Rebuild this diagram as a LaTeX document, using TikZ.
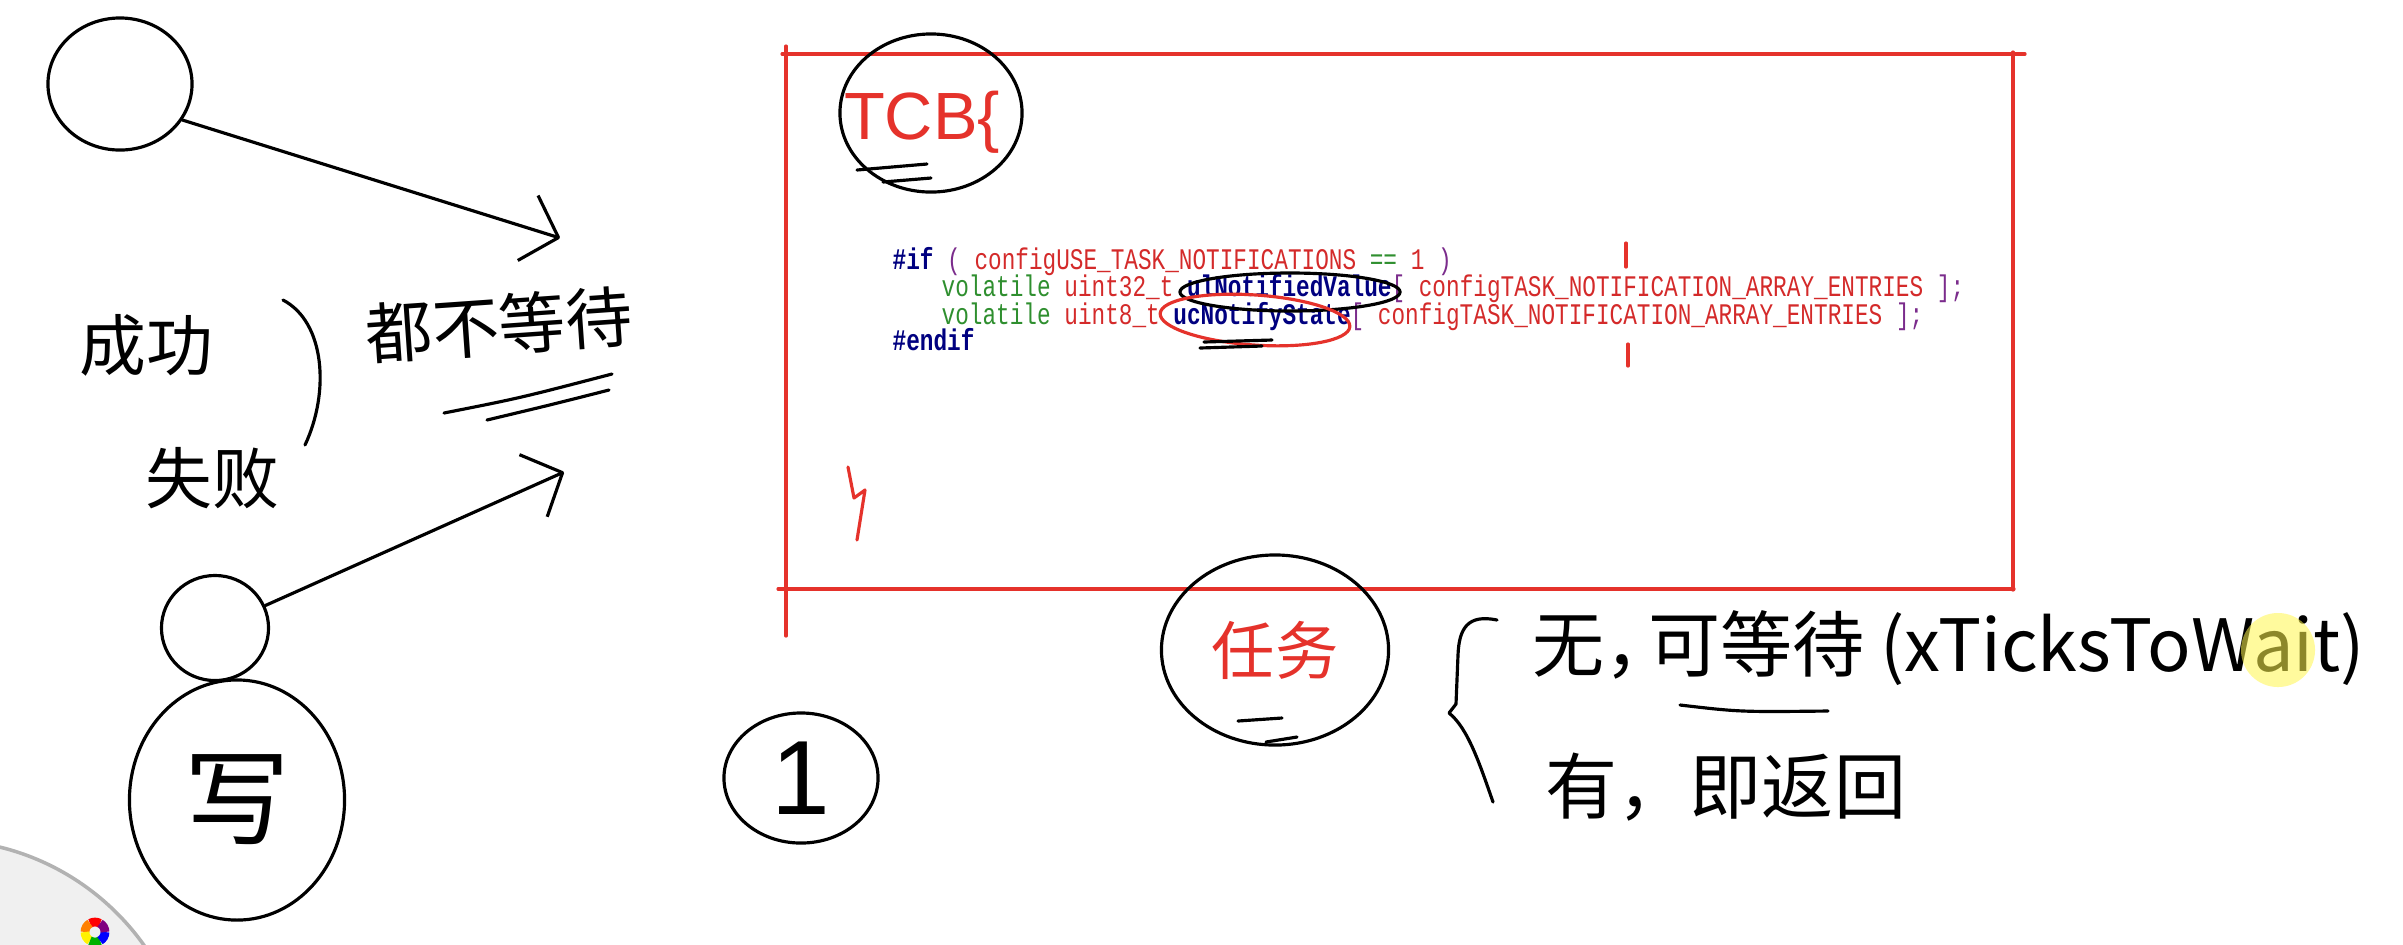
\documentclass[tikz,border=0pt]{standalone}
\usepackage{fontspec}
\usetikzlibrary{arrows.meta}
\usetikzlibrary{shapes.geometric}
\newfontfamily\cjk{Noto Sans CJK SC}
\newfontfamily\codefont[FakeStretch=0.76]{Liberation Mono}
\newfontfamily\handfont{Liberation Sans}
\definecolor{markred}{HTML}{E5322B}
\definecolor{kwblue}{HTML}{000080}
\definecolor{macred}{HTML}{D42A2A}
\definecolor{kwgreen}{HTML}{2F8F2F}
\definecolor{brpurple}{HTML}{7B2C8C}

\begin{document}
\begin{tikzpicture}[x=0.01cm, y=-0.01cm,
  pen/.style={black, line width=0.9pt, line cap=round, line join=round},
  redpen/.style={markred, line width=0.9pt, line cap=round, line join=round},
  ring/.style={ellipse, draw, pen, inner sep=0pt},
  hand/.style={font=\cjk\fontsize{19pt}{19pt}\selectfont, inner sep=0pt},
  code/.style={font=\codefont\fontsize{8.5pt}{8.5pt}\selectfont, anchor=base west, inner sep=0pt},
  barb/.style={-{Straight Barb[length=3.2mm, width=6.8mm, line join=round]}}]
\useasboundingbox (0,0) rectangle (2403,944);
\fill[white] (0,0) rectangle (2403,944);

% tool ring in the corner
\begin{scope}
\clip (0,0) rectangle (2403,944);
\fill[gray!12] (-60,1090) circle[radius=2.5cm];
\draw[gray!60, line width=1pt] (-60,1090) circle[radius=2.5cm];
\foreach \c [count=\i] in {red, orange, yellow, green!70!black, blue, violet}
  \draw[\c, line width=2.5pt] (95,932) ++({60*\i}:0.1cm) arc[start angle={60*\i}, end angle={60*\i+60}, radius=0.1cm];
\end{scope}

% left side
\node[ring, minimum width=1.44cm, minimum height=1.32cm] (sendA) at (120,84) {};
\node[ring, minimum width=1.07cm, minimum height=1.05cm] (sendB) at (215,628) {};
\node[ring, minimum width=2.15cm, minimum height=2.4cm, font=\cjk\fontsize{30pt}{30pt}\selectfont] (waitc) at (237,800) {写};
\coordinate (tipA) at (560,238);
\coordinate (tipB) at (564,472);
\draw[pen, barb] (sendA.-30) -- (tipA);
\draw[pen, barb] (sendB) -- (tipB);

\node[hand] (ok) at (146,345) {成功};
\node[hand] (fail) at (212,478) {失败};
\draw[pen] (283,300) .. controls (325,322) and (330,392) .. (305,445);
\node[hand, rotate=4] (nowait) at (499,325) {都不等待};
\draw[pen] (444,413) .. controls (520,398) .. (612,374);
\draw[pen] (487,420) .. controls (550,405) .. (609,390);

% TCB box
\draw[redpen] (782,54) -- (2025,54);
\draw[redpen] (786,46) -- (786,636);
\draw[redpen] (2013,52) -- (2013,590);
\draw[redpen] (778,589) -- (2014,589);

\node[ring, minimum width=1.82cm, minimum height=1.58cm] (tcb) at (931,113) {};
\node[text=markred, font=\handfont\fontsize{19pt}{19pt}\selectfont, inner sep=0pt] (tcbtext) at (922,122) {TCB\{};
\draw[pen] (857,170) -- (927,164);
\draw[pen] (883,182) -- (931,178);

\node[code] (ifline) at (892,269) {\textcolor{kwblue}{\textbf{\#if}} \textcolor{brpurple}{(} \textcolor{macred}{configUSE\_TASK\_NOTIFICATIONS} \textcolor{kwgreen}{==} \textcolor{macred}{1} \textcolor{brpurple}{)}};
\node[code] (valline) at (941,296) {\textcolor{kwgreen}{volatile} \textcolor{macred}{uint32\_t} \textcolor{kwblue}{\textbf{ulNotifiedValue}}\textcolor{brpurple}{[} \textcolor{macred}{configTASK\_NOTIFICATION\_ARRAY\_ENTRIES} \textcolor{brpurple}{];}};
\node[code] (stateline) at (941,324) {\textcolor{kwgreen}{volatile} \textcolor{macred}{uint8\_t} \textcolor{kwblue}{\textbf{ucNotifyState}}\textcolor{brpurple}{[} \textcolor{macred}{configTASK\_NOTIFICATION\_ARRAY\_ENTRIES} \textcolor{brpurple}{];}};
\node[code] (endline) at (892,350) {\textcolor{kwblue}{\textbf{\#endif}}};

\node[ring, minimum width=2.2cm, minimum height=0.38cm] (valring) at (1290,292) {};
\node[ring, draw=markred, rotate=-4, minimum width=1.9cm, minimum height=0.5cm] (statering) at (1255,320) {};
\draw[pen] (1204,342) -- (1272,340);
\draw[pen] (1200,348) -- (1262,346);
\draw[redpen] (1626,243) -- (1626,267);
\draw[redpen] (1628,344) -- (1628,366);
\draw[redpen] (848,467) -- (854,498) -- (865,490) -- (857,540);

% below the box
\node[ring, minimum width=1.54cm, minimum height=1.3cm, font=\handfont\fontsize{30pt}{30pt}\selectfont] (one) at (801,778) {1};
\node[ring, minimum width=2.27cm, minimum height=1.9cm, text=markred, font=\cjk\fontsize{18pt}{18pt}\selectfont] (task) at (1275,650) {任务};
\draw[pen] (1238,721) -- (1282,718);
\draw[pen] (1266,742) -- (1297,737);

\draw[pen] (1497,620) .. controls (1468,614) and (1459,628) .. (1458,655) -- (1456,704) -- (1449,713) .. controls (1468,728) and (1480,765) .. (1493,802);
\node[hand, anchor=west, font=\cjk\fontsize{20.5pt}{20.5pt}\selectfont] (nowaitopt) at (1532,648) {无，\kern-0.4em 可等待 (xTicksToWait)};
\draw[pen] (1680,705) .. controls (1740,712) .. (1828,711);
\node[hand, anchor=west, font=\cjk\fontsize{20.5pt}{20.5pt}\selectfont] (hasopt) at (1545,787) {有，即返回};
\fill[yellow!70!white, opacity=0.55] (2278,650) circle[radius=0.37cm];

\end{tikzpicture}
\end{document}
